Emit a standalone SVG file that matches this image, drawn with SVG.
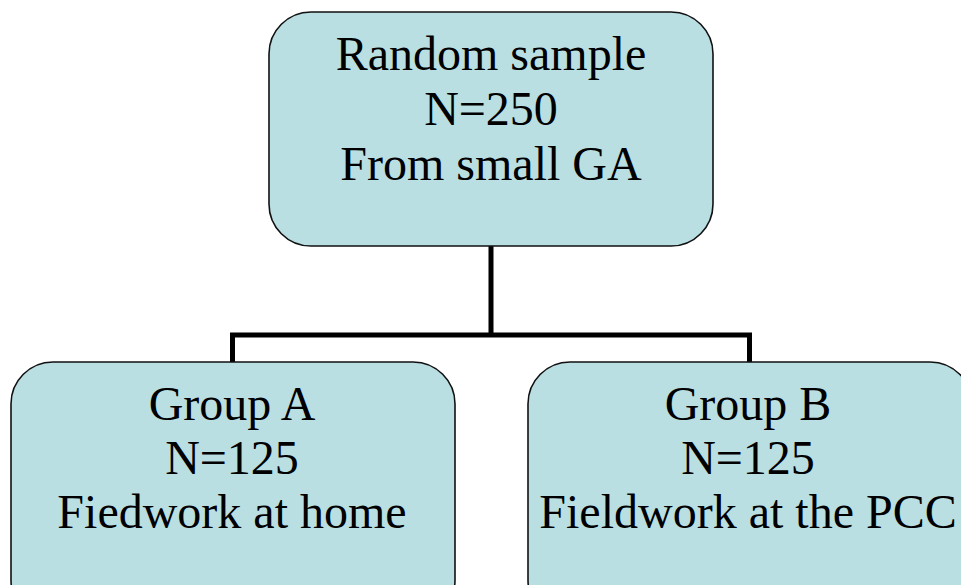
<svg xmlns="http://www.w3.org/2000/svg" width="961" height="585" viewBox="0 0 961 585">
  <style>
    .box { fill: #B9DFE3; stroke: #111; stroke-width: 1.6; }
    .label { font-family: "Liberation Serif", "Times New Roman", serif; font-size: 48px; fill: #000; text-anchor: middle; }
    .link { fill: none; stroke: #000; stroke-width: 5; stroke-linejoin: miter; }
  </style>
  <rect width="961" height="585" fill="#fff"/>

  <g id="connectors">
    <path class="link" d="M491,246 V335 M232.5,362 V335 H749.5 V362"/>
  </g>

  <g id="sample">
    <rect class="box" x="269" y="12" width="444" height="234" rx="42" ry="42"/>
    <text class="label" x="491" y="70">Random sample</text>
    <text class="label" x="491" y="125">N=250</text>
    <text class="label" x="491" y="180">From small GA</text>
  </g>

  <g id="groupA">
    <rect class="box" x="11" y="362" width="444" height="260" rx="42" ry="42"/>
    <text class="label" x="232" y="420">Group A</text>
    <text class="label" x="232" y="474">N=125</text>
    <text class="label" x="232" y="528">Fiedwork at home</text>
  </g>

  <g id="groupB">
    <rect class="box" x="528" y="362" width="444" height="260" rx="42" ry="42"/>
    <text class="label" x="748" y="420">Group B</text>
    <text class="label" x="748" y="474">N=125</text>
    <text class="label" x="748" y="528">Fieldwork at the PCC</text>
  </g>
</svg>
